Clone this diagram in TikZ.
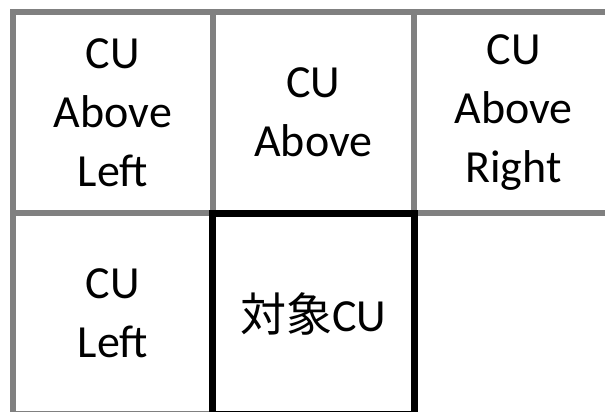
\documentclass[tikz,border=0pt]{standalone}
\usepackage{fontspec}
\setmainfont{Carlito}
\newfontfamily\cjkjp{Noto Sans CJK JP}
\definecolor{gridgray}{RGB}{128,128,128}
\begin{document}
\begin{tikzpicture}[x=1pt,y=-1pt,
  cell/.style={draw=gridgray, line width=6pt, minimum width=200pt, minimum height=201pt,
    inner sep=0pt, align=center, font=\fontsize{46}{59}\selectfont, anchor=center},
  target/.style={cell, draw=black, line width=7pt, minimum width=202pt}]
\useasboundingbox (0,0) rectangle (605,412);
\clip (0,0) rectangle (605,412);
\node[cell] (al) at (113,112.5) {CU\\Above\\Left};
\node[cell, minimum width=200.5pt] (a) at (313.25,112.5) {CU\\Above};
\node[cell] (ar) at (513.5,112.5) {CU\\Above\\Right};
\node[cell] (l) at (113,313.5) {CU\\Left};
\node[target] (t) at (313.5,313.5) {{\cjkjp 対象}CU};
\end{tikzpicture}
\end{document}
